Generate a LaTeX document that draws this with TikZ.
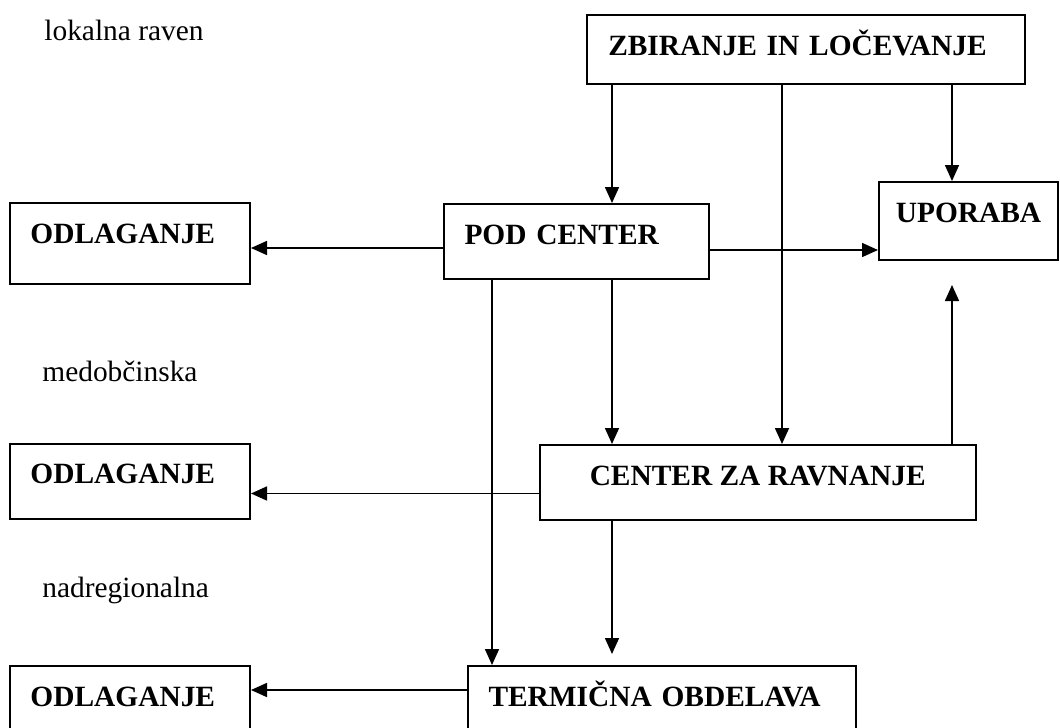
\documentclass[tikz,border=0pt]{standalone}
\usepackage{fontspec}
\setmainfont{Liberation Serif}
\usepackage{tikz}
\usetikzlibrary{arrows.meta}

\tikzset{
  box/.style={draw, line width=1pt, inner xsep=0pt, inner ysep=0pt, text height=20pt,
    font=\fontsize{14.7}{17}\selectfont\bfseries},
  lbox/.style={box, inner xsep=10.5pt, align=left},
  level/.style={anchor=base west, inner sep=0pt, font=\fontsize{14.7}{17}\selectfont},
  arr/.style={-{Triangle[length=8pt,width=7pt]}, line width=0.8pt}
}

\begin{document}
\begin{tikzpicture}[x=0.5pt, y=-0.5pt]
  \useasboundingbox (0,0) rectangle (1060,728);
  \clip (0,0) rectangle (1060,728);
  % levels
  \node[level] (l0) at (44,40) {lokalna raven};
  \node[level] (l1) at (42,381) {medobčinska};
  \node[level] (l2) at (42,597) {nadregionalna};
  % boxes
  \node[lbox, text width=197.75pt, text depth=14.5pt] (zbir) at (806,49.5) {ZBIRANJE IN LOČEVANJE};
  \node[box, minimum width=89.5pt, text depth=19pt] (upor) at (968.5,221) {UPORABA};
  \node[lbox, text width=99.25pt, text depth=20.5pt] (odl1) at (129.75,243.5) {ODLAGANJE};
  \node[lbox, text width=111.5pt, text depth=17.5pt] (pod) at (576,241.5) {POD CENTER};
  \node[box, minimum width=218.25pt, text depth=17.5pt] (cent) at (757.75,482.5) {CENTER ZA RAVNANJE};
  \node[lbox, text width=99.25pt, text depth=17.75pt] (odl2) at (129.75,481.25) {ODLAGANJE};
  \node[lbox, text width=173.25pt, text depth=19pt] (term) at (661.75,705) {TERMIČNA OBDELAVA};
  \node[lbox, text width=99.25pt, text depth=19pt] (odl3) at (129.75,705) {ODLAGANJE};
  % flows
  \draw[arr] (612,0 |- zbir.south) -- (612,0 |- pod.north);
  \draw[arr] (782,0 |- zbir.south) -- (782,0 |- cent.north);
  \draw[arr] (952,0 |- zbir.south) -- (952,0 |- upor.north);
  \draw[arr] (pod.west |- 0,248) -- (odl1.east |- 0,248);
  \draw[arr] (pod.east |- 0,250) -- (upor.west |- 0,250);
  \draw[arr] (492,0 |- pod.south) -- (492,0 |- term.north);
  \draw[arr] (612,0 |- pod.south) -- (612,0 |- cent.north);
  \draw[arr, shorten >=12pt] (952,0 |- cent.north) -- (952,0 |- upor.south);
  \draw[arr] (cent.west |- 0,493.5) -- (odl2.east |- 0,493.5);
  \draw[arr, shorten >=5.5pt] (612,0 |- cent.south) -- (612,0 |- term.north);
  \draw[arr] (term.west |- 0,690) -- (odl3.east |- 0,690);
\end{tikzpicture}
\end{document}
